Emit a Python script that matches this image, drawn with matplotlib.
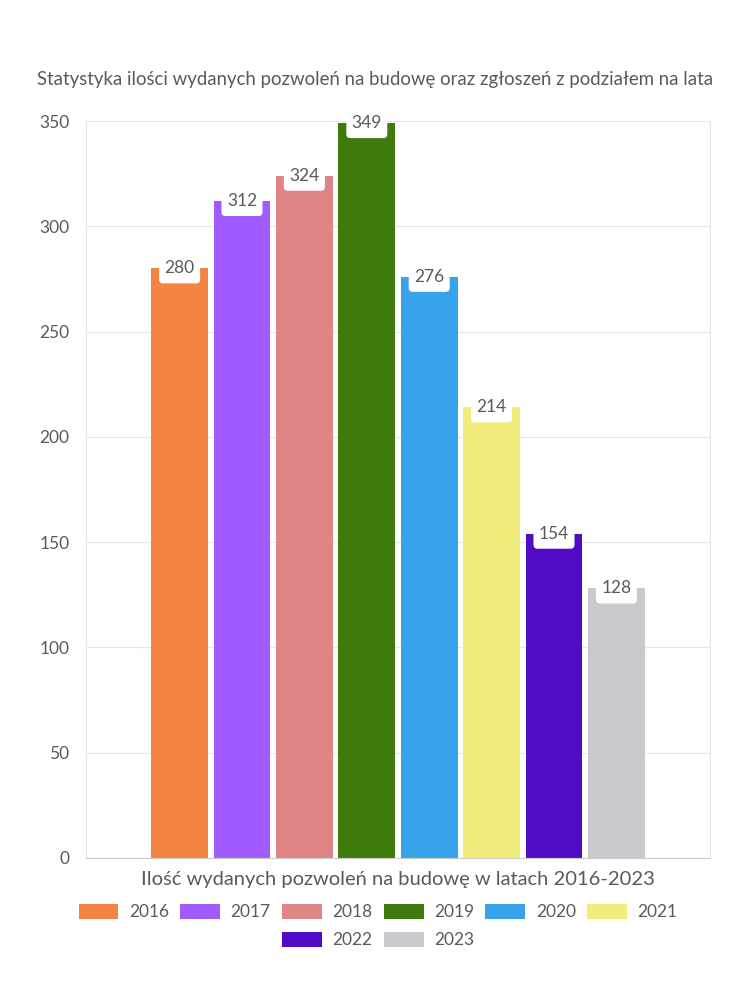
import matplotlib
matplotlib.use("Agg")
import matplotlib.pyplot as plt
from matplotlib.patches import Patch, FancyBboxPatch

years = ["2016", "2017", "2018", "2019", "2020", "2021", "2022", "2023"]
values = [280, 312, 324, 349, 276, 214, 154, 128]
colors = ["#F58442", "#A05CFF", "#E08585", "#3F7B0C", "#38A3EA", "#F0EC7E", "#520BC4", "#C9C9CD"]
yticks = [0, 50, 100, 150, 200, 250, 300, 350]
title = "Statystyka ilości wydanych pozwoleń na budowę oraz zgłoszeń z podziałem na lata"
xlabel = "Ilość wydanych pozwoleń na budowę w latach 2016-2023"

plt.rcParams['font.family'] = ['Lato', 'DejaVu Sans']
txt = "#5a5a5a"

fig = plt.figure(figsize=(7.5, 10), dpi=100)
ax_px = (624, 737)
ax = fig.add_axes([86/750, 1-858/1000, ax_px[0]/750, ax_px[1]/1000])
xlim = (-1.5, 8.5)
ylim = (0, 350)
ax.set_xlim(*xlim)
ax.set_ylim(*ylim)

# data units per pixel
dx = (xlim[1] - xlim[0]) / ax_px[0]
dy = (ylim[1] - ylim[0]) / ax_px[1]

xs = list(range(len(values)))
ax.bar(xs, values, width=0.91, color=colors, zorder=2)
box_w, box_top, box_bot, rad = 41, 10, 15, 4  # pixels
for x, v in zip(xs, values):
    p = FancyBboxPatch((x - box_w / 2 * dx, v - box_bot * dy), box_w * dx, (box_bot + box_top) * dy,
                       boxstyle=f"round,pad=0,rounding_size={rad * dx}", mutation_aspect=dy / dx,
                       fc='white', ec='none', zorder=3, clip_on=False)
    ax.add_patch(p)
    ax.annotate(str(v), xy=(x, v), xytext=(0, 0), textcoords='offset points',
                ha='center', va='center', fontsize=12.5, color=txt, zorder=4)

ax.set_yticks(yticks)
ax.set_yticklabels([str(t) for t in yticks], fontsize=12.5, color=txt)
ax.set_xticks([])
ax.tick_params(axis='y', length=0, pad=12)
ax.grid(axis='y', color='#e6e6e6', linewidth=0.8, zorder=0)
for s in ['left', 'right', 'top']:
    ax.spines[s].set_color('#e6e6e6')
ax.spines['top'].set_visible(False)
ax.spines['bottom'].set_color('#cccccc')

fig.text(375/750, 1 - 80/1000, title, ha='center', va='center', fontsize=13.4, color=txt)
fig.text(398/750, 1 - 880/1000, xlabel, ha='center', va='center', fontsize=14.5, color=txt)

handles = [Patch(facecolor=c, edgecolor='none') for c in colors]
lkw = dict(frameon=False, fontsize=12.5, handlelength=2.3, handleheight=1.0, columnspacing=0.65,
           handletextpad=0.6, labelcolor=txt, borderpad=0, borderaxespad=0)
fig.legend(handles[:6], years[:6], loc='center', bbox_to_anchor=(378/750, 1 - 912/1000), ncol=6, **lkw)
fig.legend(handles[6:], years[6:], loc='center', bbox_to_anchor=(378/750, 1 - 940/1000), ncol=2, **lkw)

fig.savefig("out.png", dpi=100, facecolor='white')
